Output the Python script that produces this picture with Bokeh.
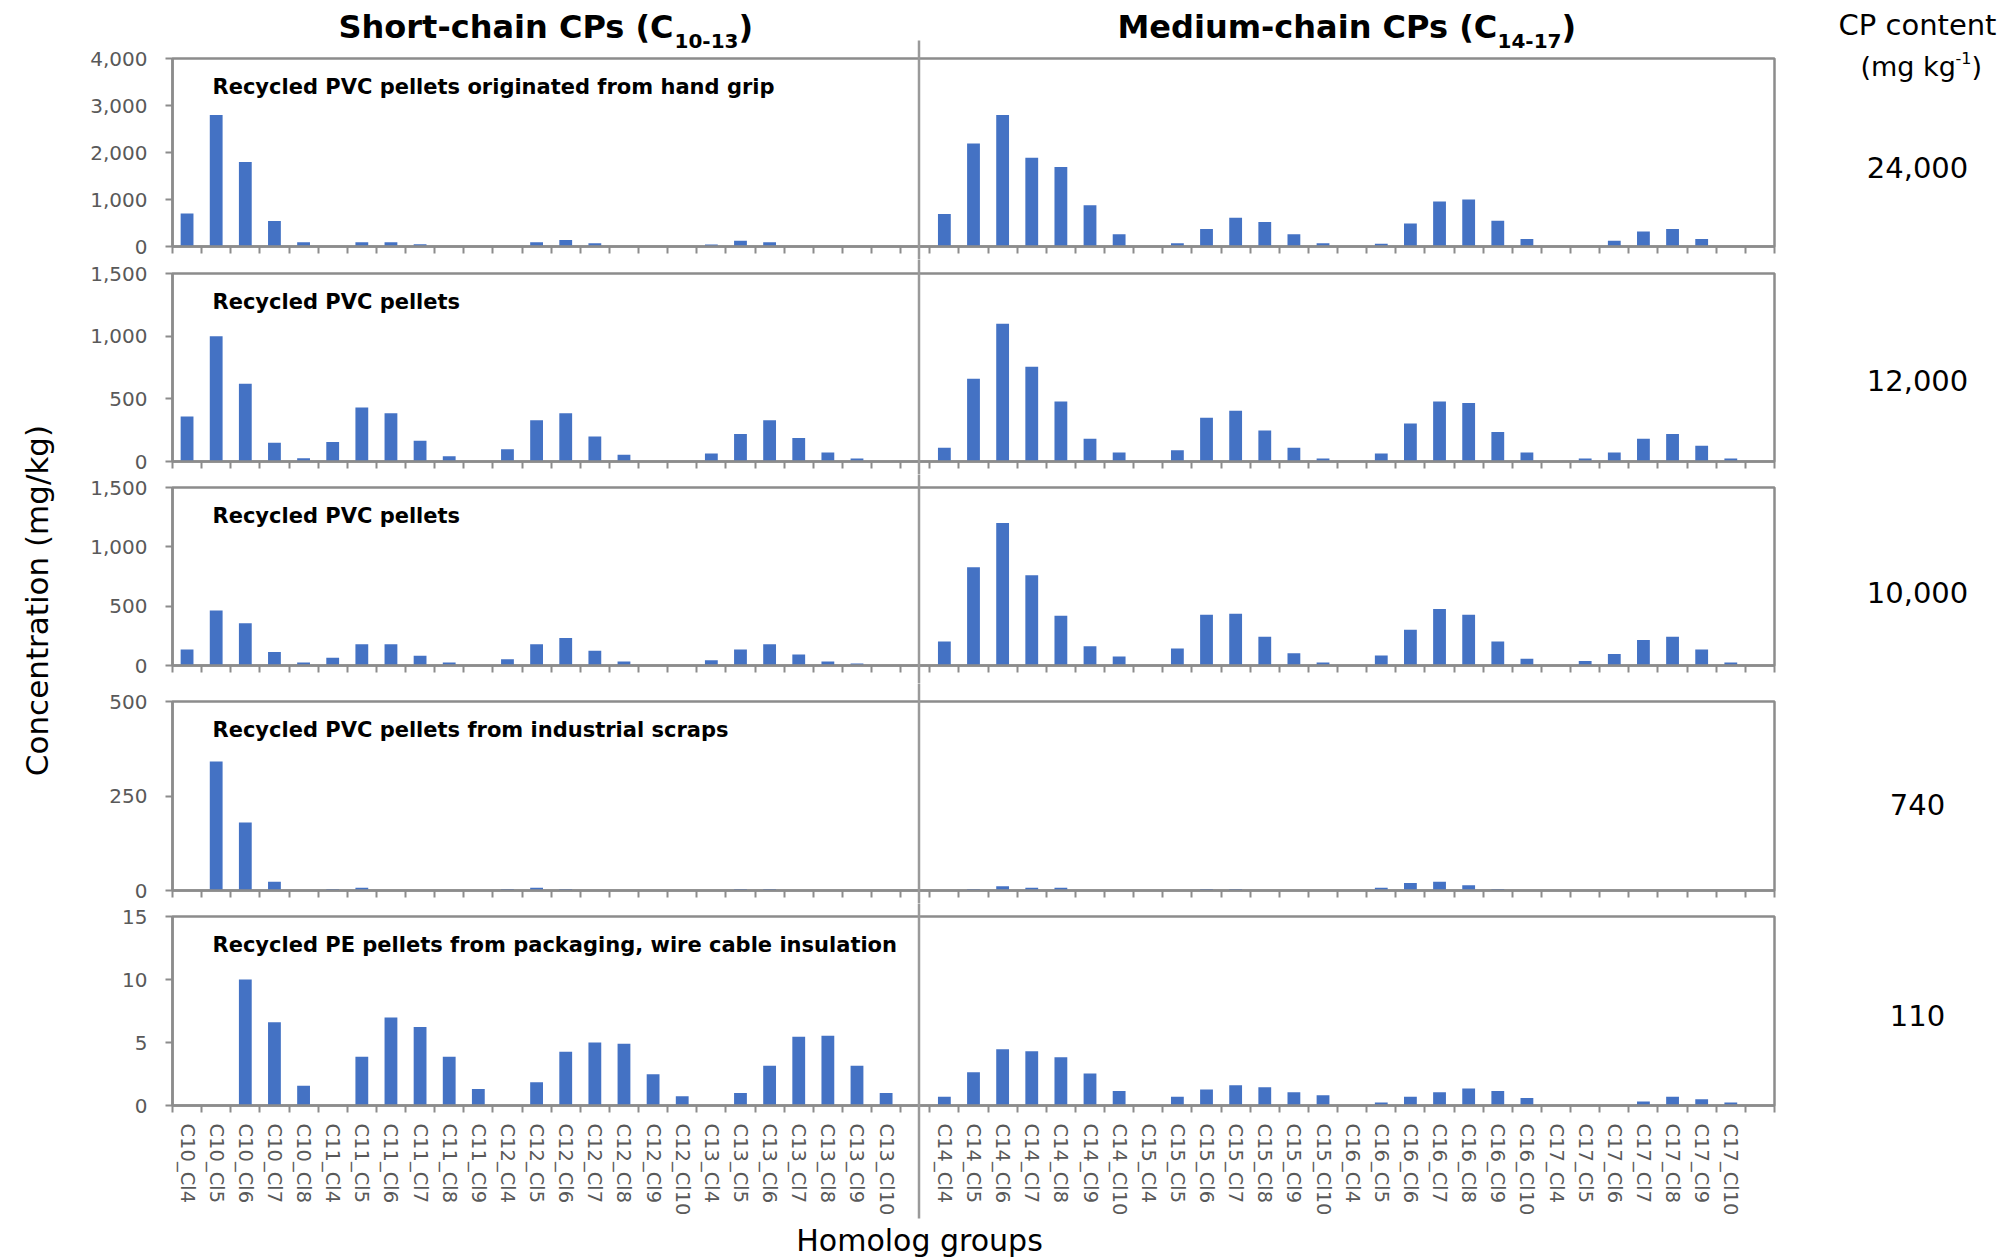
import math
from bokeh.plotting import figure
from bokeh.layouts import row, column
from bokeh.models import Range1d, FixedTicker, NumeralTickFormatter, Label, ColumnDataSource
from bokeh.core.properties import value
from bokeh.embed import file_html
from bokeh.resources import INLINE

# ---------------- data ----------------
short_groups = ["C10_Cl4", "C10_Cl5", "C10_Cl6", "C10_Cl7", "C10_Cl8",
                "C11_Cl4", "C11_Cl5", "C11_Cl6", "C11_Cl7", "C11_Cl8", "C11_Cl9",
                "C12_Cl4", "C12_Cl5", "C12_Cl6", "C12_Cl7", "C12_Cl8", "C12_Cl9", "C12_Cl10",
                "C13_Cl4", "C13_Cl5", "C13_Cl6", "C13_Cl7", "C13_Cl8", "C13_Cl9", "C13_Cl10"]
medium_groups = ["C14_Cl4", "C14_Cl5", "C14_Cl6", "C14_Cl7", "C14_Cl8", "C14_Cl9", "C14_Cl10",
                 "C15_Cl4", "C15_Cl5", "C15_Cl6", "C15_Cl7", "C15_Cl8", "C15_Cl9", "C15_Cl10",
                 "C16_Cl4", "C16_Cl5", "C16_Cl6", "C16_Cl7", "C16_Cl8", "C16_Cl9", "C16_Cl10",
                 "C17_Cl4", "C17_Cl5", "C17_Cl6", "C17_Cl7", "C17_Cl8", "C17_Cl9", "C17_Cl10"]

p1_short = [700, 2800, 1800, 540, 90,
            0, 90, 90, 50, 0, 0,
            0, 90, 140, 70, 0, 0, 0,
            40, 120, 90, 0, 0, 0, 0]
p1_medium = [690, 2190, 2800, 1890, 1690, 880, 260,
             0, 70, 370, 610, 520, 260, 70,
             0, 60, 490, 960, 1000, 550, 160,
             0, 0, 120, 320, 370, 160, 0]

p2_short = [360, 1000, 620, 150, 25,
            155, 430, 385, 165, 42, 0,
            98, 330, 385, 200, 53, 0, 0,
            64, 220, 330, 188, 72, 24, 0]
p2_medium = [110, 660, 1100, 755, 478, 181, 72,
             0, 90, 350, 405, 247, 109, 24,
             0, 64, 303, 478, 467, 236, 72,
             0, 24, 72, 181, 220, 125, 24]

p3_short = [135, 464, 357, 113, 25,
            65, 180, 180, 82, 25, 0,
            53, 180, 231, 124, 34, 0, 0,
            45, 135, 180, 93, 34, 17, 0]
p3_medium = [203, 827, 1200, 760, 419, 163, 76,
             0, 144, 428, 436, 242, 104, 25,
             0, 84, 301, 476, 428, 203, 56,
             0, 37, 96, 214, 242, 135, 25]

p4_short = [0, 341, 180, 23, 0,
            4, 7, 0, 0, 0, 0,
            4, 7, 4, 0, 0, 0, 0,
            0, 4, 4, 0, 0, 0, 0]
p4_medium = [0, 4, 11, 7, 7, 0, 0,
             0, 0, 4, 4, 0, 0, 0,
             0, 7, 20, 23, 14, 4, 0,
             0, 0, 0, 0, 0, 0, 0]

p5_short = [0, 0, 10.0, 6.6, 1.56,
            0, 3.86, 6.98, 6.24, 3.86, 1.3,
            0, 1.85, 4.26, 5.0, 4.9, 2.49, 0.74,
            0, 1.0, 3.15, 5.45, 5.53, 3.15, 1.0]
p5_medium = [0.7, 2.63, 4.46, 4.3, 3.83, 2.53, 1.15,
             0, 0.7, 1.26, 1.6, 1.45, 1.05, 0.81,
             0, 0.24, 0.7, 1.05, 1.35, 1.15, 0.6,
             0, 0, 0, 0.32, 0.7, 0.5, 0.24]

panel_titles = ["Recycled PVC pellets originated from hand grip",
                "Recycled PVC pellets",
                "Recycled PVC pellets",
                "Recycled PVC pellets from industrial scraps",
                "Recycled PE pellets from packaging, wire cable insulation"]
cp_content = ["24,000", "12,000", "10,000", "740", "110"]
y_max = [4000, 1500, 1500, 500, 15]
y_ticks = [[0, 1000, 2000, 3000, 4000], [0, 500, 1000, 1500], [0, 500, 1000, 1500],
           [0, 250, 500], [0, 5, 10, 15]]
short_values = [p1_short, p2_short, p3_short, p4_short, p5_short]
medium_values = [p1_medium, p2_medium, p3_medium, p4_medium, p5_medium]

# ---------------- layout geometry (pixels) ----------------
W = 2013
H = 1259
LEFT_FIG_W = 70
FRAME_L = 172
FRAME_W = 1602
FRAME_R_BORDER = W - FRAME_L - FRAME_W
fig_h = [259, 215, 209, 220, 356]
b_top = [58, 14, 13, 18, 13]
f_h = [188, 188, 178, 189, 189]
b_bot = [13, 13, 18, 13, 154]
fig_top = [sum(fig_h[:k]) for k in range(5)]

n_short = len(short_groups)
n_med = len(medium_groups)
n_slots = n_short + n_med + 2
x_short = [i + 0.5 for i in range(n_short)]
x_med = [n_short + 1 + j + 0.5 for j in range(n_med)]

GRAY = "#8c8c8c"
LABEL_GRAY = "#595959"
BAR = "#4472C4"
FONT = "DejaVu Sans"


def xd(px):
    return (px - FRAME_L) / FRAME_W * n_slots


def yd(k, py):
    top = fig_top[k] + b_top[k]
    bot = top + f_h[k]
    return y_max[k] * (bot - py) / (bot - top)


def add_text(p, k, xpx, base_px, txt, size, bold=False, align="left"):
    # text glyph at overlay level so that it may sit in the figure border;
    # positioned by its alphabetic baseline (converted to the em-box middle)
    mid = base_px - 0.346 * size
    p.text(x=[xd(xpx)], y=[yd(k, mid)], text=[txt], text_font=value(FONT),
           text_font_style="bold" if bold else "normal", text_font_size=value(f"{size}px"),
           text_color="black", text_align=align, text_baseline="middle", level="overlay")


divider_x = xd(918.5)

figs = []
for k in range(5):
    p = figure(width=W - LEFT_FIG_W, height=fig_h[k],
               x_range=Range1d(0, n_slots), y_range=Range1d(0, y_max[k]),
               output_backend="svg", toolbar_location=None,
               min_border_left=FRAME_L - LEFT_FIG_W, min_border_right=FRAME_R_BORDER,
               min_border_top=b_top[k], min_border_bottom=b_bot[k])
    p.grid.visible = False
    p.outline_line_color = GRAY
    p.outline_line_width = 2.5
    p.background_fill_color = "white"
    p.border_fill_color = "white"

    ya = p.yaxis[0]
    ya.ticker = FixedTicker(ticks=y_ticks[k])
    ya.formatter = NumeralTickFormatter(format="0,0")
    ya.major_label_text_font = FONT
    ya.major_label_text_font_size = "20px"
    ya.major_label_text_color = LABEL_GRAY
    ya.axis_line_color = GRAY
    ya.axis_line_width = 2.5
    ya.major_tick_out = 7
    ya.major_tick_in = 0
    ya.major_tick_line_color = GRAY
    ya.major_tick_line_width = 2
    ya.minor_tick_line_color = None
    ya.major_label_standoff = 18

    xa = p.xaxis[0]
    boundaries = list(range(n_slots + 1))
    if k == 4:
        centers = x_short + x_med
        xa.ticker = FixedTicker(ticks=centers, minor_ticks=boundaries)
        xa.major_label_overrides = {c: lab for c, lab in zip(centers, short_groups + medium_groups)}
        xa.major_label_orientation = "vertical"
        xa.major_label_text_font = FONT
        xa.major_label_text_font_size = "19.5px"
        xa.major_label_text_color = LABEL_GRAY
        xa.major_label_standoff = 11
    else:
        xa.ticker = FixedTicker(ticks=[], minor_ticks=boundaries)
    xa.major_tick_line_color = None
    xa.major_tick_out = 0
    xa.major_tick_in = 0
    xa.minor_tick_in = 0
    xa.minor_tick_out = 7
    xa.minor_tick_line_color = GRAY
    xa.minor_tick_line_width = 2
    xa.axis_line_color = GRAY
    xa.axis_line_width = 2.5

    src_s = ColumnDataSource(dict(x=x_short, top=short_values[k], grp=short_groups))
    src_m = ColumnDataSource(dict(x=x_med, top=medium_values[k], grp=medium_groups))
    p.vbar(x="x", top="top", width=0.44, source=src_s, fill_color=BAR, line_color=None)
    p.vbar(x="x", top="top", width=0.44, source=src_m, fill_color=BAR, line_color=None)

    # divider between short and medium chain
    seg_top = 40 if k == 0 else fig_top[k]
    seg_bot = 1218 if k == 4 else fig_top[k] + fig_h[k]
    p.segment(x0=[divider_x], y0=[yd(k, seg_top)], x1=[divider_x], y1=[yd(k, seg_bot)],
              line_color="#9a9a9a", line_width=2.5, level="overlay")

    # panel title
    p.add_layout(Label(x=xd(212), y=yd(k, fig_top[k] + b_top[k] + 28), text=panel_titles[k],
                       text_font=FONT, text_font_style="bold", text_font_size="21px",
                       text_color="black", text_align="left", text_baseline="middle"))
    # CP content value
    cp_y = [177, 390, 602, 814, 1025][k]
    add_text(p, k, 1917, cp_y, cp_content[k], 29, align="center")
    figs.append(p)

p0 = figs[0]
# Short-chain title
sx = 338
add_text(p0, 0, sx, 38, "Short-chain CPs (C", 32, bold=True)
add_text(p0, 0, sx + 336, 47, "10-13", 20, bold=True)
add_text(p0, 0, sx + 336 + 64, 38, ")", 32, bold=True)
# Medium-chain title
mx = 1117
add_text(p0, 0, mx, 38, "Medium-chain CPs (C", 32, bold=True)
add_text(p0, 0, mx + 380, 47, "14-17", 20, bold=True)
add_text(p0, 0, mx + 380 + 64, 38, ")", 32, bold=True)

# CP content header
add_text(p0, 0, 1917, 35, "CP content", 29, align="center")
hx = 1860
add_text(p0, 0, hx, 75, "(mg kg", 27)
add_text(p0, 0, hx + 95, 63, "-1", 16)
add_text(p0, 0, hx + 95 + 16, 75, ")", 27)

# x axis title
add_text(figs[4], 4, 919, 1250, "Homolog groups", 30, align="center")

# y axis title in a narrow left figure
yfig = figure(width=LEFT_FIG_W, height=H, x_range=Range1d(0, LEFT_FIG_W), y_range=Range1d(0, H),
              output_backend="svg", toolbar_location=None, min_border=0,
              x_axis_location=None, y_axis_location=None)
yfig.grid.visible = False
yfig.outline_line_color = None
yfig.add_layout(Label(x=36, y=H - 600, text="Concentration (mg/kg)", angle=90, angle_units="deg",
                      text_font=FONT, text_font_size="31px", text_color="black",
                      text_align="center", text_baseline="middle"))

layout = row(yfig, column(*figs, spacing=0), spacing=0)
open("out.html", "w").write(file_html(layout, INLINE))
